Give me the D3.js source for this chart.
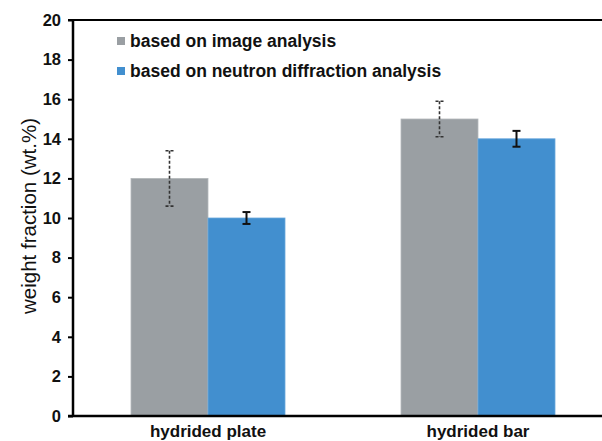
<!DOCTYPE html>
<html>
<head>
<meta charset="utf-8">
<script src="https://cdn.jsdelivr.net/npm/d3@7"></script>
<style>
  body { margin: 0; background: #fff; }
  svg { display: block; font-family: "Liberation Sans", Arial, sans-serif; }
</style>
</head>
<body>
<svg id="chart" width="602" height="441"></svg>
<script>
// data
const categories = ['hydrided plate', 'hydrided bar']
const seriesNames = ['based on image analysis', 'based on neutron diffraction analysis']
const imageValues = [12, 15]
const imageErrors = [1.4, 0.9]
const neutronValues = [10, 14]
const neutronErrors = [0.3, 0.4]
const yTicks = [0, 2, 4, 6, 8, 10, 12, 14, 16, 18, 20]

const svg = d3.select('#chart')
const colors = ['#9a9fa3', '#428fcf']

const x = d3.scaleBand()
  .domain(categories)
  .range([73, 613])

const inner = d3.scaleBand()
  .domain([0, 1])
  .range([0, 154])

const y = d3.scaleLinear()
  .domain([0, 20])
  .range([416, 20])

// bars
const rows = []
categories.forEach((c, i) => {
  rows.push({cat: c, s: 0, v: imageValues[i], e: imageErrors[i]})
  rows.push({cat: c, s: 1, v: neutronValues[i], e: neutronErrors[i]})
})
const groupStart = c => x(c) + (x.bandwidth() - 154) / 2

svg.selectAll('rect.bar')
  .data(rows)
  .enter()
  .append('rect')
  .attr('class', 'bar')
  .attr('x', d => groupStart(d.cat) + inner(d.s))
  .attr('y', d => y(d.v))
  .attr('width', inner.bandwidth())
  .attr('height', d => y(0) - y(d.v))
  .attr('fill', d => colors[d.s])
  .attr('stroke', d => d.s == 0 ? '#b4b8bb' : '#6aa8dc')
  .attr('stroke-width', 0.8)

// error bars
const err = svg.selectAll('g.err')
  .data(rows)
  .enter()
  .append('g')
  .attr('class', 'err')
  .attr('stroke', d => d.s == 0 ? '#333' : '#111')
  .attr('stroke-width', d => d.s == 0 ? 1.6 : 2)
  .attr('stroke-dasharray', d => d.s == 0 ? '3,2' : null)
  .attr('transform', d => `translate(${groupStart(d.cat) + inner(d.s) + inner.bandwidth() / 2},0)`)

err.append('line')
  .attr('y1', d => y(d.v + d.e)).attr('y2', d => y(d.v - d.e))
err.append('line')
  .attr('x1', -4).attr('x2', 4)
  .attr('y1', d => y(d.v + d.e)).attr('y2', d => y(d.v + d.e))
err.append('line')
  .attr('x1', -4).attr('x2', 4)
  .attr('y1', d => y(d.v - d.e)).attr('y2', d => y(d.v - d.e))

// y axis
const yAxis = svg.append('g')
  .attr('transform', 'translate(73,0)')
  .call(d3.axisLeft(y).tickValues(yTicks).tickSize(5).tickPadding(7))
yAxis.select('.domain').remove()
yAxis.selectAll('.tick line').attr('stroke', '#000').attr('stroke-width', 2)
yAxis.selectAll('.tick text')
  .attr('font-size', 16.5)
  .attr('font-weight', 'bold')
  .attr('font-family', '"Liberation Sans", Arial, sans-serif')
  .attr('fill', '#111')

// frame lines
svg.append('line')
  .attr('x1', 73).attr('x2', 73).attr('y1', y(20)).attr('y2', y(0) + 1)
  .attr('stroke', '#000').attr('stroke-width', 2.5)
svg.append('line')
  .attr('x1', 68).attr('x2', 602).attr('y1', y(0)).attr('y2', y(0))
  .attr('stroke', '#000').attr('stroke-width', 2.5)
svg.append('line')
  .attr('x1', 68).attr('x2', 602).attr('y1', y(20)).attr('y2', y(20))
  .attr('stroke', '#000').attr('stroke-width', 2)

// category labels
svg.selectAll('text.cat')
  .data(categories)
  .enter()
  .append('text')
  .attr('class', 'cat')
  .attr('x', d => x(d) + x.bandwidth() / 2)
  .attr('y', 437)
  .attr('text-anchor', 'middle')
  .attr('font-size', 17)
  .attr('font-weight', 'bold')
  .attr('fill', '#111')
  .text(d => d)

// y label
svg.append('text')
  .attr('transform', 'translate(28,216) rotate(-90)')
  .attr('text-anchor', 'middle')
  .attr('dominant-baseline', 'central')
  .attr('font-size', 20.5)
  .attr('fill', '#111')
  .text('weight fraction (wt.%)')

// legend
const legend = svg.append('g').attr('transform', 'translate(117,37)')
seriesNames.forEach((n, i) => {
  legend.append('rect')
    .attr('x', 0).attr('y', i * 30)
    .attr('width', 8).attr('height', 8)
    .attr('fill', colors[i])
  legend.append('text')
    .attr('x', 13).attr('y', i * 30 + 10)
    .attr('font-size', 17.5)
    .attr('font-weight', 'bold')
    .attr('fill', '#111')
    .text(n)
})
</script>
</body>
</html>
